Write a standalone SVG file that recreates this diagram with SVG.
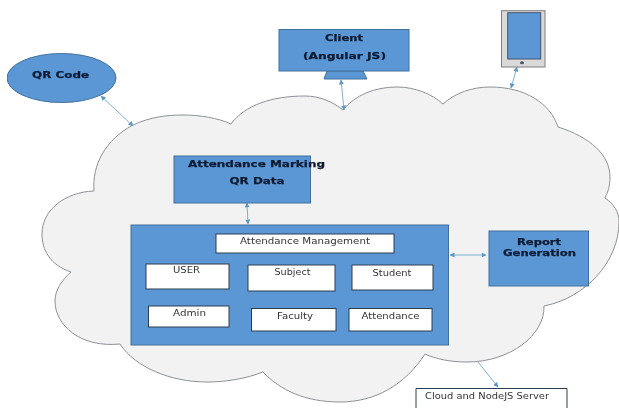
<svg xmlns="http://www.w3.org/2000/svg" width="619" height="408" viewBox="0 0 619 408">
<style>
text{font-family:"DejaVu Sans",Verdana,sans-serif;text-anchor:middle}
.b{font-size:9.500px;font-weight:bold;fill:#0b1a30;stroke:#0b1a30;stroke-width:.25}
.n{font-size:9px;fill:#333}
.blue{fill:#5b97d5;stroke:#41719c;stroke-width:1}
.w{fill:#fff;stroke:#2c3e50;stroke-width:1}
.c{fill:none;stroke:#7fb0cc;stroke-width:1;marker-start:url(#a);marker-end:url(#a)}
</style>
<defs>
<marker id="a" markerWidth="5" markerHeight="5" refX="4.500" refY="2.500" orient="auto-start-reverse" markerUnits="userSpaceOnUse"><path d="M0 0L5 2.500L0 5z" fill="#5b97c5"/></marker>
<filter id="soft" x="0" y="0" width="100%" height="100%"><feGaussianBlur stdDeviation="0.4"/></filter>
</defs>
<g filter="url(#soft)">
<g id="cloud"><path d="M94 191C92 165 105 140 133 125C150 117 167 115 183 115C200 115 218 118 231 124C245 105 272 96 305 96C320 96 333 102 343 110C355 95 375 87 397 87C415 87 432 94 443 104C455 93 472 87 490 87C525 87 550 103 558 127C590 137 610 155 610 177C610 186 608 192 605 198C614 204 619 212 619 222C619 262 585 298 544 306C545 335 510 362 467 362C450 362 436 359 425 354C405 385 375 402 340 402C305 402 280 390 263 372C245 379 225 382 207 382C170 382 135 367 120 344C80 348 55 325 55 301C55 290 62 280 71 272C50 265 42 250 42 234C42 210 65 192 94 191Z" fill="#f2f2f2" stroke="#8c9196" stroke-width="1"/></g>
<g id="connectors">
<path class="c" d="M101 96L133 126"/>
<path class="c" d="M341 80L344 110"/>
<path class="c" d="M517 67L511 88"/>
<path class="c" d="M247 203L248 224"/>
<path class="c" d="M450 255L486 255"/>
<path d="M478 362L498 387" fill="none" stroke="#7fb0cc" stroke-width="1" marker-end="url(#a)"/>
</g>
<g id="qr-code"><ellipse class="blue" cx="61.500" cy="78" rx="54.500" ry="24.500"/><text class="b" x="60.500" y="78" textLength="57" lengthAdjust="spacingAndGlyphs">QR Code</text></g>
<g id="client"><path class="blue" d="M327 71H363L367 79H324Z"/><rect class="blue" x="279" y="29.500" width="130" height="41.500"/><text class="b" x="344" y="41" textLength="38" lengthAdjust="spacingAndGlyphs">Client</text><text class="b" x="344.500" y="59" textLength="83" lengthAdjust="spacingAndGlyphs">(Angular JS)</text></g>
<g id="tablet"><rect x="501.500" y="10.700" width="43.500" height="56.300" fill="#d9d9d9" stroke="#7f7f7f"/><rect x="507.700" y="12.700" width="33" height="46.300" fill="#5b97d5" stroke="#44546a"/><ellipse cx="522" cy="62.700" rx="2" ry="1.500" fill="#44546a"/></g>
<g id="attendance-marking"><rect class="blue" x="174" y="156" width="136.500" height="47"/><text class="b" x="256.500" y="167" textLength="137" lengthAdjust="spacingAndGlyphs">Attendance Marking</text><text class="b" x="257" y="184" textLength="55" lengthAdjust="spacingAndGlyphs">QR Data</text></g>
<g id="attendance-management"><rect class="blue" x="131" y="225" width="317.500" height="120"/></g>
<g id="attendance-management-title"><rect class="w" x="216" y="234" width="178" height="19"/><text class="n" x="305" y="244" textLength="130" lengthAdjust="spacingAndGlyphs">Attendance Management</text></g>
<g id="user"><rect class="w" x="146" y="264" width="83" height="25"/><text class="n" x="186.500" y="273" textLength="27" lengthAdjust="spacingAndGlyphs">USER</text></g>
<g id="subject"><rect class="w" x="248" y="265" width="87" height="26"/><text class="n" x="292.500" y="275" textLength="36" lengthAdjust="spacingAndGlyphs">Subject</text></g>
<g id="student"><rect class="w" x="352" y="265" width="81" height="25"/><text class="n" x="392" y="276" textLength="39" lengthAdjust="spacingAndGlyphs">Student</text></g>
<g id="admin"><rect class="w" x="148.500" y="306" width="80.500" height="21"/><text class="n" x="189.500" y="316" textLength="33" lengthAdjust="spacingAndGlyphs">Admin</text></g>
<g id="faculty"><rect class="w" x="251.500" y="308.500" width="84.500" height="22.500"/><text class="n" x="295" y="319" textLength="36" lengthAdjust="spacingAndGlyphs">Faculty</text></g>
<g id="attendance"><rect class="w" x="349" y="308.500" width="83" height="22.500"/><text class="n" x="390.500" y="319" textLength="58" lengthAdjust="spacingAndGlyphs">Attendance</text></g>
<g id="report-generation"><rect class="blue" x="489" y="231" width="99.500" height="55"/><text class="b" x="539" y="245" textLength="44" lengthAdjust="spacingAndGlyphs">Report</text><text class="b" x="539.500" y="256" textLength="73" lengthAdjust="spacingAndGlyphs">Generation</text></g>
<g id="cloud-server"><path d="M416 408V388.500H567V408" fill="#fff" stroke="#2c3e50"/><text class="n" x="487" y="399" textLength="124" lengthAdjust="spacingAndGlyphs">Cloud and NodeJS Server</text></g>
</g>
</svg>
